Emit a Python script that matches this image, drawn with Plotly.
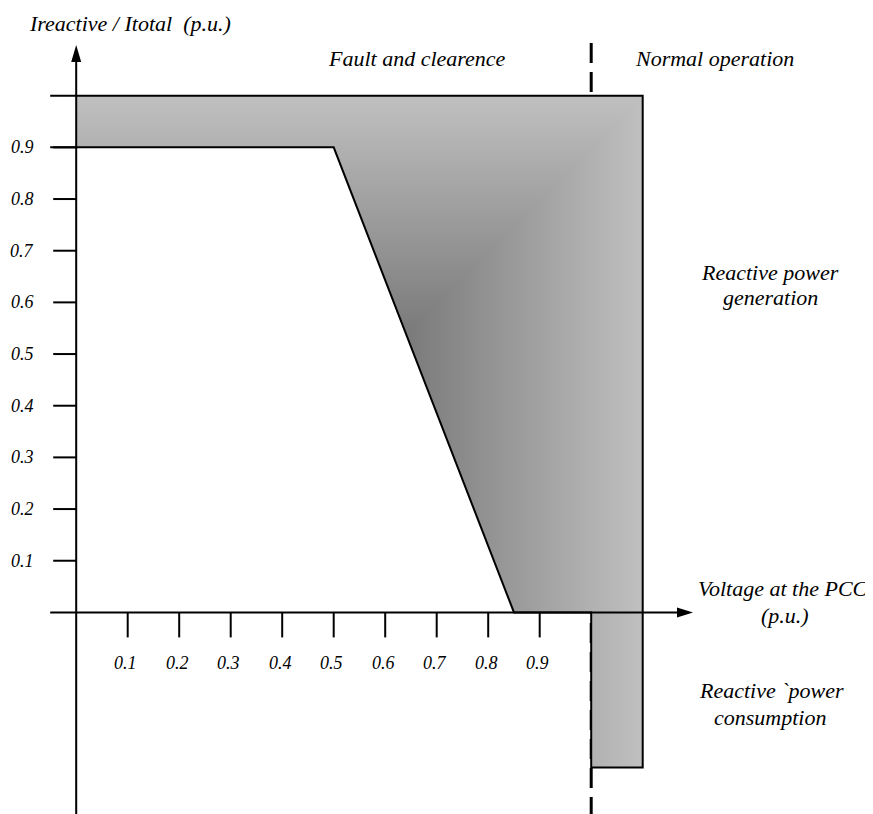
import plotly.graph_objects as go

# ---------------- data ----------------
x_ticks = [0.1, 0.2, 0.3, 0.4, 0.5, 0.6, 0.7, 0.8, 0.9]
x_tick_labels = ["0.1", "0.2", "0.3", "0.4", "0.5", "0.6", "0.7", "0.8", "0.9"]
y_ticks = [0.1, 0.2, 0.3, 0.4, 0.5, 0.6, 0.7, 0.8, 0.9]
y_tick_labels = ["0.1", "0.2", "0.3", "0.4", "0.5", "0.6", "0.7", "0.8", "0.9"]

# reactive current requirement region (voltage p.u., Ireactive/Itotal p.u.)
region_x = [0.0, 1.1, 1.1, 1.0, 1.0, 0.85, 0.5, 0.0]
region_y = [1.0, 1.0, -0.3, -0.3, 0.0, 0.0, 0.9, 0.9]

normal_voltage = 1.0  # boundary fault / normal operation

# ---------------- geometry / style ----------------
PAGE_OFF = 8                   # default body margin of the html page
W, H = 873 - PAGE_OFF, 814 - PAGE_OFF
X0_PX, PX_X = 76.2 - PAGE_OFF, 515.0      # figure pixel of x=0, pixels per unit
Y0_PX, PX_Y = 612.4 - PAGE_OFF, 516.7     # figure pixel of y=0, pixels per unit
xr = [-X0_PX / PX_X, (W - X0_PX) / PX_X]
yr = [(Y0_PX - H) / PX_Y, Y0_PX / PX_Y]

def dx(px):
    return px / PX_X

def dy(px):
    return px / PX_Y

def sx_(p):  # screen pixel -> data x
    return (p - PAGE_OFF - X0_PX) / PX_X

def sy_(p):  # screen pixel -> data y
    return (Y0_PX - (p - PAGE_OFF)) / PX_Y

DARK = "#7a7a7a"
LIGHT = "#c0c0c0"
FONT = "Liberation Serif, Times New Roman, Tinos, serif"

# seam of the shaded gradient: 45 deg line from top-right corner to sloped edge
top_y = max(region_y)
right_x = max(region_x)
ax_, ay_ = region_x[5], region_y[5]
bx_, by_ = region_x[6], region_y[6]
off = right_x - top_y
t = (ax_ - ay_ - off) / ((ax_ - ay_) - (bx_ - by_))
sx = ax_ + t * (bx_ - ax_)
sy = ay_ + t * (by_ - ay_)

fig = go.Figure()

# dashed separation line (under the region)
fig.add_trace(go.Scatter(
    x=[normal_voltage, normal_voltage], y=[sy_(43), yr[0]],
    mode="lines", line=dict(color="black", width=3, dash="20px,9px"),
    hoverinfo="skip", showlegend=False))

# full region, horizontal gradient
fig.add_trace(go.Scatter(
    x=region_x + [region_x[0]], y=region_y + [region_y[0]],
    mode="lines", fill="toself", line=dict(width=0, color="rgba(0,0,0,0)"),
    fillgradient=dict(type="horizontal", colorscale=[[0, DARK], [1, LIGHT]],
                      start=sx, stop=right_x),
    hoverinfo="skip", showlegend=False))

# upper part, vertical gradient
up_x = [region_x[0], region_x[1], sx, region_x[6], region_x[7], region_x[0]]
up_y = [region_y[0], region_y[1], sy, region_y[6], region_y[7], region_y[0]]
fig.add_trace(go.Scatter(
    x=up_x, y=up_y,
    mode="lines", fill="toself", line=dict(width=0, color="rgba(0,0,0,0)"),
    fillgradient=dict(type="vertical", colorscale=[[0, DARK], [1, LIGHT]],
                      start=sy, stop=top_y),
    hoverinfo="skip", showlegend=False))

# region outline (with small extensions to the left of the y axis)
ext = -dx(26)
out_x = [ext] + region_x[1:7] + [ext]
out_y = [region_y[0]] + region_y[1:7] + [region_y[7]]
fig.add_trace(go.Scatter(
    x=out_x, y=out_y, mode="lines", line=dict(color="black", width=2),
    hoverinfo="skip", showlegend=False))

# axes
y_tip = sy_(45)
x_tip = sx_(693)
fig.add_trace(go.Scatter(
    x=[0, 0], y=[yr[0], y_tip - dy(10)], mode="lines",
    line=dict(color="black", width=2), hoverinfo="skip", showlegend=False))
fig.add_trace(go.Scatter(
    x=[-dx(26), x_tip - dx(10)], y=[0, 0], mode="lines",
    line=dict(color="black", width=2), hoverinfo="skip", showlegend=False))

shapes = [
    dict(type="path", xref="x", yref="y",
         path=f"M {0},{y_tip} L {-dx(5)},{y_tip - dy(17)} L {dx(5)},{y_tip - dy(17)} Z",
         fillcolor="black", line=dict(width=0)),
    dict(type="path", xref="x", yref="y",
         path=f"M {x_tip},0 L {x_tip - dx(16)},{dy(5)} L {x_tip - dx(16)},{-dy(5)} Z",
         fillcolor="black", line=dict(width=0)),
]

# tick marks
tx, ty = [], []
for v in x_ticks:
    tx += [v, v, None]
    ty += [0, -dy(25), None]
fig.add_trace(go.Scatter(x=tx, y=ty, mode="lines", line=dict(color="black", width=2),
                         hoverinfo="skip", showlegend=False))
tx, ty = [], []
for v in y_ticks:
    tx += [-dx(23), 0, None]
    ty += [v, v, None]
fig.add_trace(go.Scatter(x=tx, y=ty, mode="lines", line=dict(color="black", width=2),
                         hoverinfo="skip", showlegend=False))

annotations = []
tick_font = dict(family=FONT, size=18, color="black", style="italic")
for v, lab in zip(x_ticks, x_tick_labels):
    annotations.append(dict(x=v - dx(2), y=-dy(51), text=lab, showarrow=False,
                            xanchor="center", yanchor="middle", font=tick_font))
for v, lab in zip(y_ticks, y_tick_labels):
    annotations.append(dict(x=-dx(54), y=v, text=lab, showarrow=False,
                            xanchor="center", yanchor="middle", font=tick_font))

lab_font = dict(family=FONT, size=22, color="black", style="italic")

def px_ann(xp, yp, text, xanchor="center"):
    annotations.append(dict(x=sx_(xp), y=sy_(yp), text=text,
                            showarrow=False, xanchor=xanchor, yanchor="middle",
                            font=lab_font, align="center"))

px_ann(27, 23, "Ireactive / Itotal\u00a0 (p.u.)", xanchor="left")
px_ann(417, 58, "Fault and clearence")
px_ann(714, 58, "Normal operation")
px_ann(770, 272, "Reactive power")
px_ann(770, 297, "generation")
px_ann(783, 588, "Voltage at the PCC")
px_ann(785, 615, "(p.u.)")
px_ann(771, 690, "Reactive `power")
px_ann(770, 717, "consumption")

fig.update_layout(
    width=W, height=H, margin=dict(l=0, r=0, t=0, b=0),
    paper_bgcolor="white", plot_bgcolor="white",
    xaxis=dict(range=xr, visible=False, fixedrange=True),
    yaxis=dict(range=yr, visible=False, fixedrange=True),
    shapes=shapes, annotations=annotations, showlegend=False,
)

fig.write_html("out.html")
